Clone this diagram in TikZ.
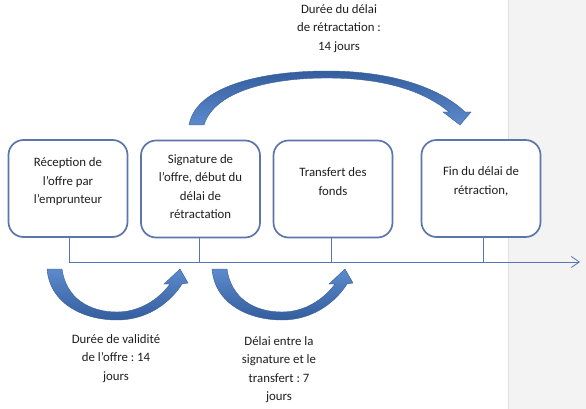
\documentclass[tikz,border=0pt]{standalone}
\usepackage{fontspec}
\setmainfont{Carlito}
\usetikzlibrary{arrows.meta}
\definecolor{boxline}{RGB}{92,118,172}
\definecolor{axisline}{RGB}{84,116,180}
\definecolor{arrowdark}{RGB}{52,94,158}
\definecolor{arrowlight}{RGB}{92,138,204}
\definecolor{arrowedge}{RGB}{58,96,152}
\definecolor{panelgray}{RGB}{243,243,243}
\definecolor{panelline}{RGB}{226,226,226}
\definecolor{txt}{RGB}{30,30,30}
\frenchspacing
\begin{document}
\begin{tikzpicture}[x=1pt,y=-1pt,
  stagebox/.style={draw=boxline,line width=1.7pt,fill=white,rounded corners=15pt,
    minimum width=119pt,minimum height=97pt,inner sep=0pt},
  lbl/.style={align=center,text=txt,font=\fontsize{12.8}{18.5}\selectfont,inner sep=0pt},
  tick/.style={draw=axisline,line width=0.8pt},
  bigarrow/.style={draw=arrowedge,line width=0.4pt,top color=arrowdark,bottom color=arrowlight},
]
\useasboundingbox (0,0) rectangle (586,409);
\fill[white] (0,0) rectangle (586,409);
\fill[panelgray] (508,0) rectangle (586,409);
\draw[panelline,line width=0.8pt] (508,0) -- (508,409);

% boxes
\node[stagebox] (b1) at (68,188.5) {};
\node[stagebox] (b2) at (200.5,189) {};
\node[stagebox] (b3) at (333,189) {};
\node[stagebox] (b4) at (481,188.5) {};

\node[lbl] (t1) at (68,182) {Réception de\\l’offre par\\l’emprunteur};
\node[lbl] (t2) at (200.5,186.5) {Signature de\\l’offre, début du\\délai de\\rétractation};
\node[lbl] (t3) at (333,181.5) {Transfert des\\fonds};
\node[lbl] (t4) at (481,181.5) {Fin du délai de\\rétraction,};

% timeline
\coordinate (a1) at (69,262);
\coordinate (a2) at (199,262);
\coordinate (a3) at (331,262);
\coordinate (a4) at (483,262);
\coordinate (aend) at (580,262);
\draw[tick,-{Straight Barb[length=8pt,width=11pt,line width=0.8pt]}] (a1) -- (aend);
\draw[tick] (b1.south -| a1) -- (a1);
\draw[tick] (b2.south -| a2) -- (a2);
\draw[tick] (b3.south -| a3) -- (a3);
\draw[tick] (b4.south -| a4) -- (a4);

% top curved arrow
\path[bigarrow] (189,125) .. controls (196,86) and (262,71) .. (327,71)
  .. controls (392,71) and (440,88) .. (465,112) -- (471,112) -- (460,125) -- (443,112) -- (449,112)
  .. controls (424,91) and (384,78) .. (327,78)
  .. controls (268,78) and (214,92) .. (204,125) -- cycle;

% bottom curved arrows
\foreach \dx in {0,165}{
\path[bigarrow,top color=arrowlight,bottom color=arrowdark,shift={(\dx,0)}] (47,269) .. controls (50,305) and (85,320) .. (117,320)
  .. controls (150,320) and (172,300) .. (182,284) -- (188,283) -- (180,269) -- (164,284) -- (170,284)
  .. controls (159,299) and (140,312) .. (117,312)
  .. controls (89,312) and (66,298) .. (62,269) -- cycle;
}

% labels of the durations
\node[lbl] (l1) at (339,28.5) {Durée du délai\\de rétractation :\\14 jours};
\node[lbl] (l2) at (116,358.5) {Durée de validité\\de l’offre : 14\\jours};
\node[lbl] (l3) at (279,369.5) {Délai entre la\\signature et le\\transfert : 7\\jours};
\end{tikzpicture}
\end{document}
